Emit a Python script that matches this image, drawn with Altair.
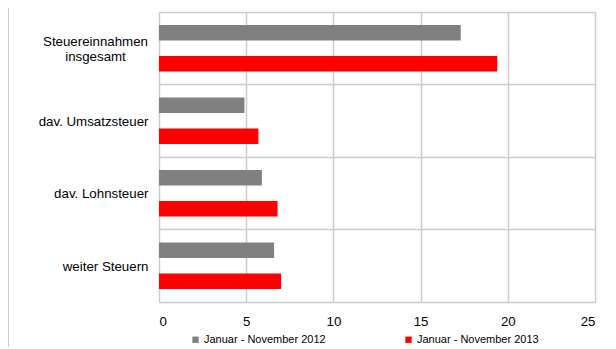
import altair as alt
import pandas as pd

categories = ["Steuereinnahmen insgesamt", "dav. Umsatzsteuer", "dav. Lohnsteuer", "weiter Steuern"]
series = ["Januar - November 2012", "Januar - November 2013"]
values_2012 = [17.3, 4.9, 5.9, 6.6]
values_2013 = [19.4, 5.7, 6.8, 7.0]
colors = ["#808080", "#ff0000"]

rows = []
for c, a, b in zip(categories, values_2012, values_2013):
    rows.append({"Kategorie": c, "Zeitraum": series[0], "Wert": a})
    rows.append({"Kategorie": c, "Zeitraum": series[1], "Wert": b})
df = pd.DataFrame(rows)

FONT = "Liberation Sans"
GRID = "#cccccc"
first = categories[0]
test = f"datum.value == '{first}'"

label_expr = (f"datum.label == '{first}' ? ['Steuereinnahmen', 'insgesamt'] : datum.label")

bars = alt.Chart(df).mark_bar().encode(
    y=alt.Y("Kategorie:N", sort=categories, title=None,
            scale=alt.Scale(paddingInner=0, paddingOuter=0),
            axis=alt.Axis(grid=True, bandPosition=0, gridColor=GRID, gridWidth=1.5,
                          ticks=False, domain=False, labelFont=FONT, labelFontSize=13.3,
                          labelColor="#000000", labelExpr=label_expr,
                          labelLimit=200, labelLineHeight=15.6,
                          labelAlign={"condition": {"test": test, "value": "center"}, "value": "right"},
                          labelPadding={"condition": {"test": test, "value": 64}, "value": 11},
                          labelOffset={"condition": {"test": test, "value": -6.5}, "value": 1})),
    yOffset=alt.YOffset("Zeitraum:N", sort=series,
                        scale=alt.Scale(paddingInner=0.5, paddingOuter=0.415)),
    x=alt.X("Wert:Q", title=None, scale=alt.Scale(domain=[0, 25], nice=False),
            axis=alt.Axis(values=[0, 5, 10, 15, 20, 25], grid=True, gridColor=GRID,
                          gridWidth=1.5, ticks=False, domain=True, domainColor=GRID,
                          domainWidth=1.5, labelFont=FONT, labelFontSize=13.3,
                          labelColor="#000000", labelPadding=12)),
    color=alt.Color("Zeitraum:N", sort=series,
                    scale=alt.Scale(domain=series, range=colors),
                    legend=alt.Legend(title=None, orient="none", direction="horizontal",
                                      legendX=31, legendY=322, symbolType="square",
                                      symbolSize=40, symbolStrokeWidth=0,
                                      labelFont=FONT, labelFontSize=11,
                                      labelColor="#000000", labelOffset=3,
                                      columnPadding=77, padding=0, labelLimit=300)),
)

frame = alt.Chart(pd.DataFrame({"a": [0]})).mark_rule(color=GRID, strokeWidth=2).encode(
    x=alt.value(-151), y=alt.value(-12), y2=alt.value(337)
)

chart = alt.layer(bars, frame).properties(
    width=436, height=290,
    autosize=alt.AutoSizeParams(type="none"),
    padding={"left": 151, "top": 4, "right": 13, "bottom": 45},
).configure_view(stroke=GRID, strokeWidth=1.5).configure(background="#ffffff")

chart.save("out.html", embed_options={"renderer": "svg", "actions": False})
